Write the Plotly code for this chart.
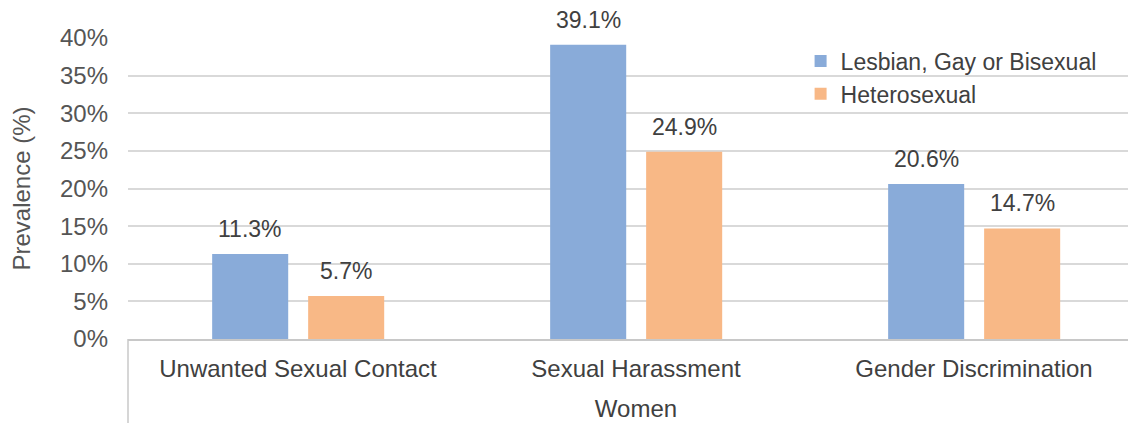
import plotly.graph_objects as go

categories = ["Unwanted Sexual Contact", "Sexual Harassment", "Gender Discrimination"]
lgb_values = [11.3, 39.1, 20.6]
hetero_values = [5.7, 24.9, 14.7]
series_names = ["Lesbian, Gay or Bisexual", "Heterosexual"]
y_ticks = [0, 5, 10, 15, 20, 25, 30, 35, 40]
y_title = "Prevalence (%)"
x_title = "Women"

BLUE = "#89abd9"
ORANGE = "#f8b886"
FONT = "Liberation Sans, Arial, sans-serif"
TXT = "#404040"
GREY = "#555555"

xpos = list(range(len(categories)))
W = 0.225
OFF_B = -0.254
OFF_O = 0.030

fig = go.Figure()
fig.add_trace(go.Bar(x=xpos, y=lgb_values, name=series_names[0], marker_color=BLUE,
                     width=W, offset=OFF_B, marker_line_width=0))
fig.add_trace(go.Bar(x=xpos, y=hetero_values, name=series_names[1], marker_color=ORANGE,
                     width=W, offset=OFF_O, marker_line_width=0))

anns = []
for vals, off in ((lgb_values, OFF_B), (hetero_values, OFF_O)):
    for i, v in enumerate(vals):
        anns.append(dict(x=i + off + W / 2, y=v, xref="x", yref="y", text=f"{v:.1f}%",
                         showarrow=False, yanchor="bottom", yshift=10,
                         font=dict(size=23, color=TXT, family=FONT)))

# page body has an 8px default margin; compensate so the plot area lands where the reference has it
H = 423
mt, mb = 30, 92
ph = H - mt - mb

fig.update_layout(
    width=1136, height=423,
    margin=dict(l=120, r=0, t=mt, b=mb),
    paper_bgcolor="white", plot_bgcolor="white",
    barmode="overlay",
    font=dict(family=FONT, color=TXT, size=24),
    annotations=anns,
    legend=dict(x=0.662, y=0.995, xanchor="left", yanchor="top",
                font=dict(size=23, color=TXT, family=FONT),
                bgcolor="rgba(0,0,0,0)", tracegroupgap=0, itemwidth=30),
    shapes=[dict(type="line", xref="paper", yref="paper", x0=0, x1=0,
                 y0=0, y1=-mb / ph, line=dict(color="#c8c8c8", width=1.5))],
    showlegend=True,
)
fig.update_xaxes(range=[-0.503, 2.503], tickvals=xpos, ticktext=categories,
                 showgrid=False, zeroline=False, showline=True, linecolor="#c8c8c8",
                 linewidth=1.5, ticks="", ticklabelstandoff=7,
                 tickfont=dict(size=24, color=TXT, family=FONT),
                 title=dict(text=x_title, standoff=20, font=dict(size=24, color=TXT, family=FONT)))
fig.update_yaxes(range=[0, 40], tickvals=y_ticks, ticktext=[f"{t}%" for t in y_ticks],
                 showgrid=True, gridcolor="#d9d9d9", gridwidth=1.5, zeroline=False,
                 showline=False, ticks="", ticklabelstandoff=19,
                 tickfont=dict(size=24, color=GREY, family=FONT),
                 title=dict(text=y_title, standoff=22, font=dict(size=24, color=GREY, family=FONT)))

fig.write_html("out.html")
